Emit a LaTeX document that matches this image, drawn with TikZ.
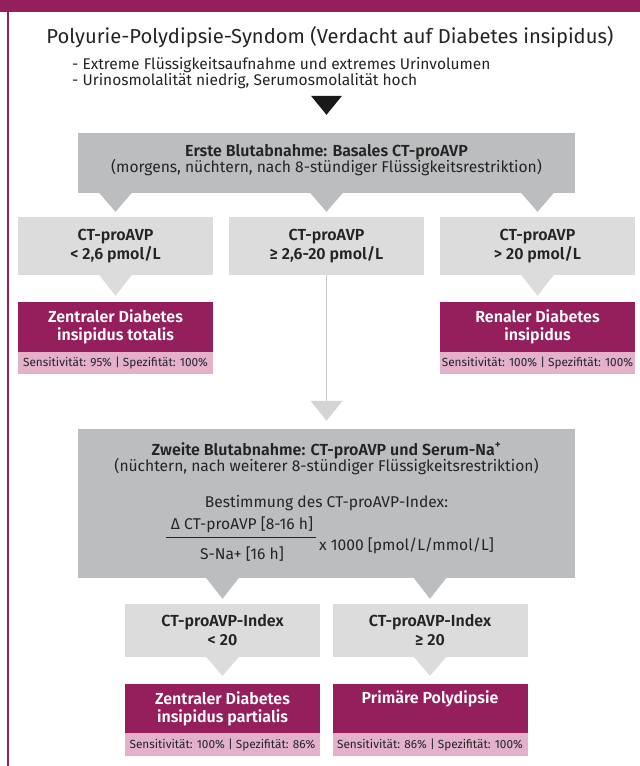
\documentclass[tikz,border=0pt]{standalone}
\usepackage{fontspec}
\setmainfont{Fira Sans}[BoldFont={Fira Sans SemiBold}]
\usetikzlibrary{calc}
\definecolor{purp}{HTML}{951F5D}
\definecolor{pinkc}{HTML}{E3B2CA}
\definecolor{dgrey}{HTML}{BCBDBF}
\definecolor{lgrey}{HTML}{DCDCDC}
\definecolor{txt}{HTML}{242424}
\definecolor{linec}{HTML}{C8C8C8}
\definecolor{ltri}{HTML}{D4D4D4}
\newcommand\mkptr[4]{\fill[#1] ($(#2.south -| #3.north)+(-16.5,-0.5)$) -- ($(#2.south -| #3.north)+(16.5,-0.5)$) -- ($(#3.north)+(0,-#4)$) -- cycle;}
\begin{document}
\begin{tikzpicture}[x=1pt,y=-1pt,
  dbox/.style={fill=dgrey, inner sep=0pt, minimum width=497pt},
  lbox/.style={fill=lgrey, inner sep=0pt, text=txt, align=center, minimum width=195pt, minimum height=58pt, font=\fontsize{16}{19}\selectfont\bfseries},
  pbox/.style={fill=purp, inner sep=0pt, text=white, align=center, minimum width=195pt, minimum height=50pt, font=\fontsize{16}{18}\selectfont\bfseries},
  kbox/.style={fill=pinkc, inner sep=0pt, text=txt, align=center, minimum width=195pt, minimum height=22pt, font=\fontsize{11.8}{12}\selectfont},
  gtext/.style={text=txt, inner sep=0pt, anchor=base, font=\fontsize{15.6}{17}\selectfont},
  gbold/.style={gtext, font=\fontsize{16}{17}\selectfont\bfseries},
  btext/.style={font=\fontsize{15.5}{15}\selectfont, text=txt, inner sep=0pt, anchor=base west}
]
\useasboundingbox (0,0) rectangle (640,766);
\fill[white] (0,0) rectangle (640,766);
% frame
\fill[purp] (0,0) rectangle (640,12);
\draw[purp, line width=1.8pt] (8,12) -- (8,766);
% header
\node[font=\fontsize{20.2}{22}\selectfont, text=txt, inner sep=0pt, anchor=base] (title) at (330,43) {Polyurie-Polydipsie-Syndom (Verdacht auf Diabetes insipidus)};
\node[btext] (bul1) at (72,69.5) {- Extreme Flüssigkeitsaufnahme und extremes Urinvolumen};
\node[btext] (bul2) at (72,85.5) {- Urinosmolalität niedrig, Serumosmolalität hoch};
% first sampling
\node[dbox, minimum height=60pt] (g1) at (326.5,163) {};
\node[gbold] (e1) at (326.5,156) {Erste Blutabnahme: Basales CT-proAVP};
\node[gtext] (e2) at (326.5,172) {(morgens, nüchtern, nach 8-stündiger Flüssigkeitsrestriktion)};
\fill[black!90] ($(g1.north)+(-15.5,-37)$) -- ($(g1.north)+(15.5,-37)$) -- ($(g1.north)+(0,-18)$) -- cycle;
\node[lbox] (l1) at (115.5,246) {CT-proAVP\\< 2,6 pmol/L};
\node[lbox] (l2) at (326.5,246) {CT-proAVP\\≥ 2,6-20 pmol/L};
\node[lbox] (l3) at (537.5,246) {CT-proAVP\\> 20 pmol/L};
\mkptr{dgrey}{g1}{l1}{5}
\mkptr{dgrey}{g1}{l2}{5}
\mkptr{dgrey}{g1}{l3}{5}
\node[pbox] (p1) at (115.5,327) {Zentraler Diabetes\\insipidus totalis};
\node[pbox] (p3) at (537.5,327) {Renaler Diabetes\\insipidus};
\node[kbox] (k1) at (115.5,363) {Sensitivität: 95\% | Spezifität: 100\%};
\node[kbox] (k3) at (537.5,363) {Sensitivität: 100\% | Spezifität: 100\%};
\mkptr{lgrey}{l1}{p1}{6}
\mkptr{lgrey}{l3}{p3}{6}
% second sampling
\node[dbox, minimum height=149pt] (g2) at (326.5,503.5) {};
\coordinate (mtri) at ($(g2.north)+(0,-28)$);
\draw[linec, line width=1.5pt] (l2.south) -- (mtri);
\fill[ltri] ($(mtri)+(-16,0)$) -- ($(mtri)+(16,0)$) -- ($(g2.north)+(0,-8)$) -- cycle;
\node[gbold] (z1) at (326.5,455) {Zweite Blutabnahme: CT-proAVP und Serum-Na\textsuperscript{+}};
\node[gtext] (z2) at (326.5,471) {(nüchtern, nach weiterer 8-stündiger Flüssigkeitsrestriktion)};
\node[gtext] (z3) at (326.5,507.5) {Bestimmung des CT-proAVP-Index:};
\node[gtext] (num) at (242,529) {Δ CT-proAVP [8-16 h]};
\node[gtext] (den) at (242,559.5) {S-Na+ [16 h]};
\coordinate (fl) at (166,537);
\coordinate (fr) at (316,537);
\draw[txt, line width=1pt] (fl) -- (fr);
\node[gtext, anchor=base west] (xk) at ($(fr)+(3,13)$) {x 1000 [pmol/L/mmol/L]};
\node[lbox, minimum height=53pt] (l4) at (222.5,630.5) {CT-proAVP-Index\\< 20};
\node[lbox, minimum height=53pt] (l5) at (430,630.5) {CT-proAVP-Index\\≥ 20};
\mkptr{dgrey}{g2}{l4}{5}
\mkptr{dgrey}{g2}{l5}{5}
\node[pbox, minimum height=49pt] (p4) at (222.5,708.5) {Zentraler Diabetes\\insipidus partialis};
\node[pbox, minimum height=49pt] (p5) at (430,708.5) {Primäre Polydipsie\\\strut};
\node[kbox, minimum height=23pt] (k4) at (222.5,744.5) {Sensitivität: 100\% | Spezifität: 86\%};
\node[kbox, minimum height=23pt] (k5) at (430,744.5) {Sensitivität: 86\% | Spezifität: 100\%};
\mkptr{lgrey}{l4}{p4}{8}
\mkptr{lgrey}{l5}{p5}{8}
\end{tikzpicture}
\end{document}
